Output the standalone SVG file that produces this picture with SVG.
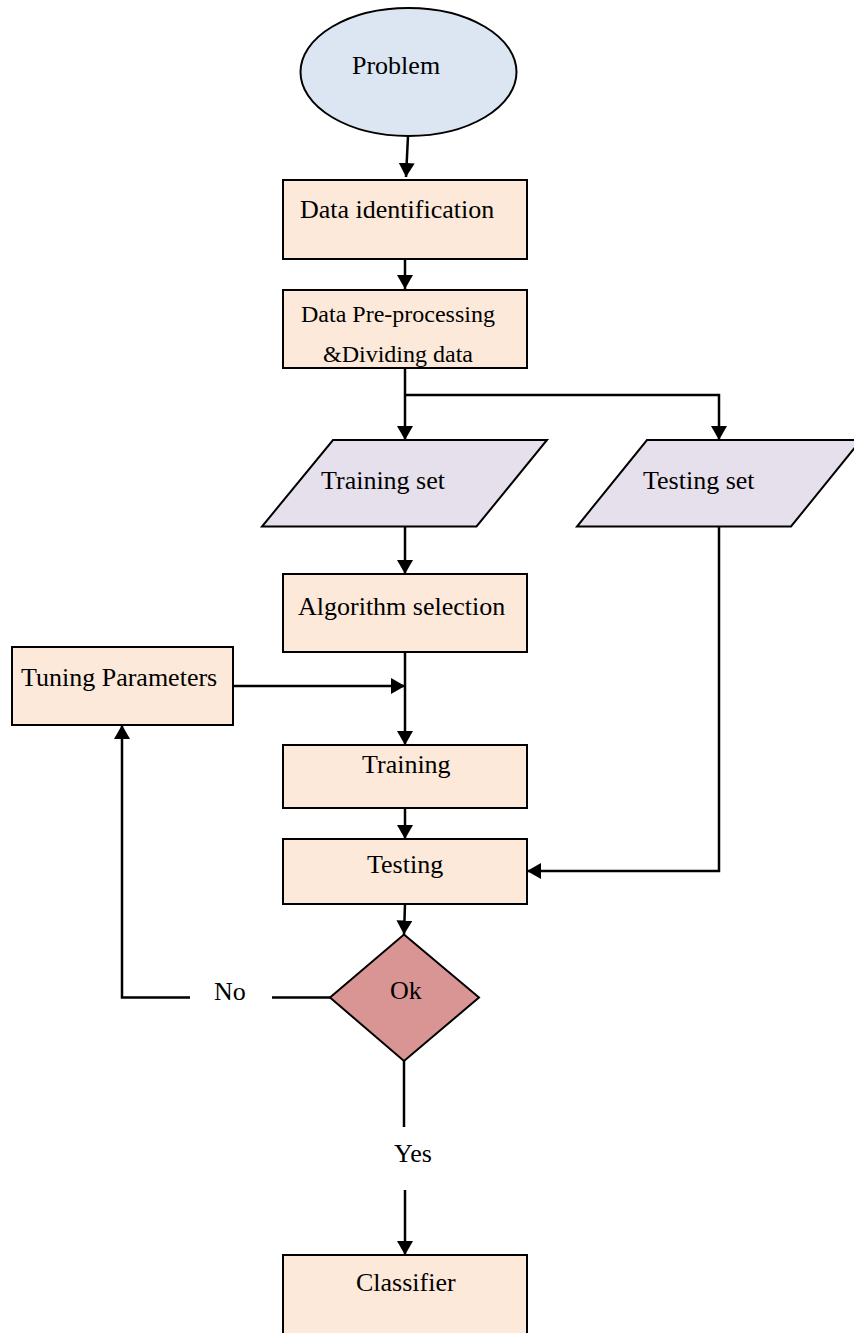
<svg xmlns="http://www.w3.org/2000/svg" width="854" height="1333" viewBox="0 0 854 1333">
<defs>
<marker id="arr" markerUnits="userSpaceOnUse" markerWidth="14" markerHeight="16" refX="14" refY="8" orient="auto">
<path d="M0,0 L14,8 L0,16 z" fill="#000"/>
</marker>
<style>
.box{fill:#fde9d9;stroke:#000;stroke-width:2}
.t{font-family:"Liberation Serif","Times New Roman",serif;font-size:26px;fill:#000}
.s{font-size:24px}
.c{fill:none;stroke:#000;stroke-width:2.5}
</style>
</defs>
<rect width="854" height="1333" fill="#fff"/>
<g id="problem">
<ellipse cx="408.5" cy="72" rx="108" ry="64" fill="#dce6f2" stroke="#000" stroke-width="2"/>
<text class="t" x="352" y="74">Problem</text>
</g>
<g id="data-identification">
<rect class="box" x="283" y="180" width="244" height="79"/>
<text class="t" x="300" y="218">Data identification</text>
</g>
<g id="data-preprocessing">
<rect class="box" x="283" y="290" width="244" height="78"/>
<text class="t s" x="301" y="322">Data Pre-processing</text>
<text class="t s" x="323" y="362">&amp;Dividing data</text>
</g>
<g id="training-set">
<polygon points="333,440 547,440 476.5,526.5 262,526.5" fill="#e5e0ec" stroke="#000" stroke-width="2"/>
<text class="t" x="321" y="489">Training set</text>
</g>
<g id="testing-set">
<polygon points="647,440 861,440 791,526.5 577,526.5" fill="#e5e0ec" stroke="#000" stroke-width="2"/>
<text class="t" x="643" y="489">Testing set</text>
</g>
<g id="algorithm-selection">
<rect class="box" x="283" y="574" width="244" height="78"/>
<text class="t" x="298" y="615">Algorithm selection</text>
</g>
<g id="tuning-parameters">
<rect class="box" x="12" y="647" width="221" height="78"/>
<text class="t" x="21" y="686">Tuning Parameters</text>
</g>
<g id="training">
<rect class="box" x="283" y="745" width="244" height="63"/>
<text class="t" x="362" y="773">Training</text>
</g>
<g id="testing">
<rect class="box" x="283" y="839" width="244" height="65"/>
<text class="t" x="367" y="873">Testing</text>
</g>
<g id="ok">
<polygon points="404,934.5 479,997.5 404,1061 330,997.5" fill="#d99594" stroke="#000" stroke-width="2"/>
<text class="t" x="390" y="999">Ok</text>
</g>
<g id="classifier">
<rect class="box" x="283" y="1255" width="244" height="90"/>
<text class="t" x="356" y="1291">Classifier</text>
</g>
<g id="labels">
<text class="t" x="214" y="1000">No</text>
<text class="t" x="394" y="1162">Yes</text>
</g>
<g id="connectors">
<path class="c" d="M408,136 L406,177" marker-end="url(#arr)"/>
<path class="c" d="M405,259 L405,289" marker-end="url(#arr)"/>
<path class="c" d="M405,368 L405,440" marker-end="url(#arr)"/>
<path class="c" d="M405,395 L719,395 L719,440" marker-end="url(#arr)"/>
<path class="c" d="M405,526.5 L405,574" marker-end="url(#arr)"/>
<path class="c" d="M405,652 L405,745" marker-end="url(#arr)"/>
<path class="c" d="M233,686 L405,686" marker-end="url(#arr)"/>
<path class="c" d="M405,808 L405,839" marker-end="url(#arr)"/>
<path class="c" d="M719,526.5 L719,871 L527,871" marker-end="url(#arr)"/>
<path class="c" d="M405,904 L404,934.5" marker-end="url(#arr)"/>
<path class="c" d="M330,997.5 L272,997.5"/>
<path class="c" d="M190,997.5 L122,997.5 L122,725" marker-end="url(#arr)"/>
<path class="c" d="M404,1061 L404,1127"/>
<path class="c" d="M405,1190 L405,1255" marker-end="url(#arr)"/>
</g>
</svg>
